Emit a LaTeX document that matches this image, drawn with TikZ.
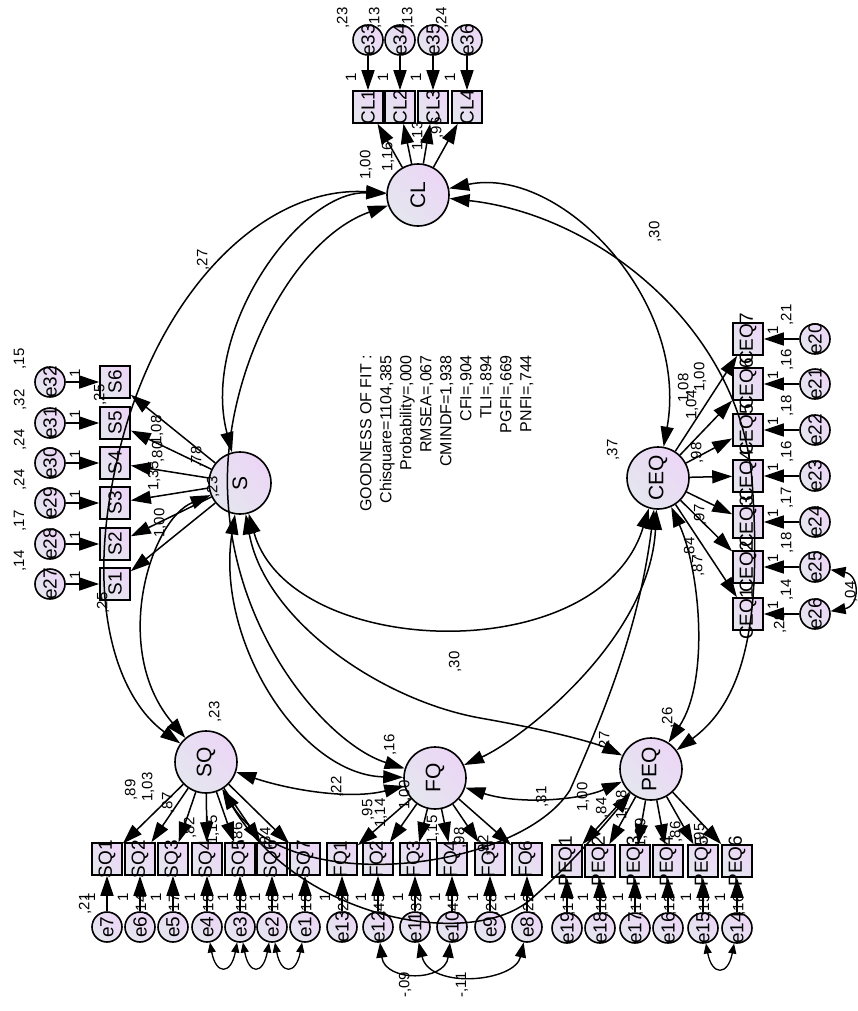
\documentclass[tikz,border=0pt]{standalone}
\usepackage{fontspec}
\setmainfont{Liberation Sans}
\usetikzlibrary{arrows.meta}
\definecolor{lavA}{RGB}{236,214,246}
\definecolor{lavB}{RGB}{228,230,238}
\tikzset{
  base/.style={draw, line width=1.6pt, top color=lavA, bottom color=lavB, shading angle=-45, inner sep=0pt},
  latent/.style={base, circle, minimum size=62pt},
  obs/.style={base, rectangle, minimum width=30pt, minimum height=32pt},
  err/.style={base, circle, minimum size=30pt},
  nm/.style={rotate=90, font=\fontsize{19}{19}\selectfont, inner sep=0pt},
  lnm/.style={rotate=90, font=\fontsize{21}{21}\selectfont, inner sep=0pt},
  num/.style={rotate=90, font=\fontsize{15}{15}\selectfont, inner sep=0pt},
  reg/.style={line width=1.5pt, -{Triangle[length=20pt,width=13pt]}},
  cov/.style={line width=1.5pt, {Triangle[length=20pt,width=13pt]}-{Triangle[length=20pt,width=13pt]}},
  mcov/.style={line width=1.4pt, {Triangle[length=15pt,width=11pt]}-{Triangle[length=15pt,width=11pt]}},
  ecov/.style={line width=1.3pt, {Triangle[length=10pt,width=8pt]}-{Triangle[length=10pt,width=8pt]}},
}
\begin{document}
\begin{tikzpicture}[x=1pt,y=-1pt]
\fill[white] (0,0) rectangle (857,1011);
\useasboundingbox (0,0) rectangle (857,1011);

% latent factors
\node[latent, label={[lnm]center:CL}]  (CL)  at (418,195) {};
\node[latent, label={[lnm]center:S}]   (S)   at (240,483) {};
\node[latent, label={[lnm]center:CEQ}] (CEQ) at (658,478) {};
\node[latent, label={[lnm]center:SQ}]  (SQ)  at (206,762) {};
\node[latent, label={[lnm]center:FQ}]  (FQ)  at (435,778) {};
\node[latent, label={[lnm]center:PEQ}] (PEQ) at (651,769) {};

% CL indicators
\foreach \i/\x in {1/368,2/400,3/433,4/467}{
  \pgfmathtruncatemacro\e{32+\i}
  \node[obs, label={[nm]center:CL\i}] (CL\i) at (\x,107) {};
  \node[err, label={[nm]center:e\e}] (e\e) at (\x,40) {};
}
% S indicators
\foreach \i/\y in {1/584,2/544,3/503,4/463,5/423,6/382}{
  \pgfmathtruncatemacro\e{26+\i}
  \node[obs, label={[nm]center:S\i}] (S\i) at (115,\y) {};
  \node[err, label={[nm]center:e\e}] (e\e) at (50,\y) {};
}
% SQ indicators
\foreach \i/\x in {1/107,2/140,3/173,4/207,5/240,6/272,7/305}{
  \pgfmathtruncatemacro\e{8-\i}
  \node[obs, label={[nm]center:SQ\i}] (SQ\i) at (\x,859) {};
  \node[err, label={[nm]center:e\e}] (e\e) at (\x,927) {};
}
% FQ indicators
\foreach \i/\x in {1/342,2/378,3/415,4/452,5/490,6/527}{
  \pgfmathtruncatemacro\e{14-\i}
  \node[obs, label={[nm]center:FQ\i}] (FQ\i) at (\x,859) {};
  \node[err, label={[nm]center:e\e}] (e\e) at (\x,927) {};
}
% PEQ indicators
\foreach \i/\x in {1/567,2/600,3/635,4/668,5/703,6/737}{
  \pgfmathtruncatemacro\e{20-\i}
  \node[obs, label={[nm]center:PEQ\i}] (PEQ\i) at (\x,861) {};
  \node[err, label={[nm]center:e\e}] (e\e) at (\x,928) {};
}
% CEQ indicators
\foreach \i/\y in {7/339,6/384,5/430,4/476,3/522,2/567,1/614}{
  \pgfmathtruncatemacro\e{27-\i}
  \node[obs, label={[nm]center:CEQ\i}] (CEQ\i) at (748,\y) {};
  \node[err, label={[nm]center:e\e}] (e\e) at (815,\y) {};
}

% loadings and error paths
\foreach \i in {1,...,4}{\pgfmathtruncatemacro\e{32+\i}
  \draw[reg] (CL) -- (CL\i); \draw[reg] (e\e) -- (CL\i);}
\foreach \i in {1,...,6}{\pgfmathtruncatemacro\e{26+\i}
  \draw[reg] (S) -- (S\i); \draw[reg] (e\e) -- (S\i);}
\foreach \i in {1,...,7}{\pgfmathtruncatemacro\e{8-\i}
  \draw[reg] (SQ) -- (SQ\i); \draw[reg] (e\e) -- (SQ\i);}
\foreach \i in {1,...,6}{\pgfmathtruncatemacro\e{14-\i}
  \draw[reg] (FQ) -- (FQ\i); \draw[reg] (e\e) -- (FQ\i);}
\foreach \i in {1,...,6}{\pgfmathtruncatemacro\e{20-\i}
  \draw[reg] (PEQ) -- (PEQ\i); \draw[reg] (e\e) -- (PEQ\i);}
\foreach \i in {1,...,7}{\pgfmathtruncatemacro\e{27-\i}
  \draw[reg] (CEQ) -- (CEQ\i); \draw[reg] (e\e) -- (CEQ\i);}

% factor covariances
\draw[cov] (CL) .. controls (300,190) and (200,330) .. (S);
\draw[cov] (CL) .. controls (260,185) and (150,300) .. (115,470) .. controls (85,610) and (120,700) .. (SQ);
\draw[cov] (CL) .. controls (290,240) and (220,380) .. (228,500) .. controls (236,640) and (330,745) .. (FQ);
\draw[cov] (CL) .. controls (560,165) and (690,300) .. (CEQ);
\draw[cov] (CL) .. controls (600,215) and (740,330) .. (752,480) .. controls (762,620) and (745,700) .. (PEQ);
\draw[cov] (CEQ) .. controls (700,570) and (710,680) .. (PEQ);
\draw[cov] (S) .. controls (290,660) and (600,670) .. (CEQ);
\draw[cov] (S) .. controls (150,520) and (110,650) .. (SQ);
\draw[cov] (S) .. controls (215,640) and (300,775) .. (FQ);
\draw[cov] (S) .. controls (265,620) and (380,700) .. (480,718) .. controls (560,732) and (600,745) .. (PEQ);
\draw[cov] (SQ) .. controls (290,790) and (350,800) .. (FQ);
\draw[cov] (SQ) .. controls (290,900) and (520,870) .. (570,790) .. controls (610,700) and (640,620) .. (CEQ);
\draw[cov] (SQ) .. controls (300,920) and (470,950) .. (530,900) .. controls (570,865) and (600,830) .. (PEQ);
\draw[cov] (FQ) .. controls (520,740) and (650,640) .. (CEQ);
\draw[cov] (FQ) .. controls (520,805) and (580,800) .. (PEQ);

% error covariances
\draw[ecov] (e4) .. controls (216,975) and (231,975) .. (e3);
\draw[ecov] (e3) .. controls (249,975) and (263,975) .. (e2);
\draw[ecov] (e2) .. controls (281,975) and (296,975) .. (e1);
\draw[ecov] (e15) .. controls (712,976) and (728,976) .. (e14);
\draw[mcov] (e25) .. controls (860,575) and (860,606) .. (e26);
\draw[mcov] (e12) .. controls (385,982) and (445,982) .. (e10);
\draw[mcov] (e11) .. controls (430,990) and (515,982) .. (e8);

% fixed weights
\foreach \x in {368,400,433,467}{\node[num] at (\x-17,77) {1};}
\foreach \y in {584,544,503,463,423,382}{\node[num] at (75,\y-9) {1};}
\foreach \x in {107,140,173,207,240,272,305,342,378,415,452,490,527,567,600,635,668,703,737}{\node[num] at (\x-17,897) {1};}
\foreach \y in {339,384,430,476,522,567,614}{\node[num] at (773,\y-9) {1};}

% error variances
\foreach \x/\v in {368/{,23},400/{,13},433/{,13},467/{,24}}{\node[num] at (\x-25,18) {\v};}
\foreach \y/\v in {584/{,14},544/{,17},503/{,24},463/{,24},423/{,32},382/{,15}}{\node[num] at (20,\y-23) {\v};}
\foreach \y/\v in {339/{,21},384/{,16},430/{,18},476/{,16},522/{,17},567/{,18},614/{,14}}{\node[num] at (787,\y-24) {\v};}
\node[num] (v7) at (85,904) {,21};
\foreach \x/\v in {140/{,14},173/{,17},207/{,18},240/{,18},272/{,18},305/{,18},342/{,22},378/{,45},415/{,32},452/{,45},490/{,28},527/{,22},567/{,17},600/{,18},635/{,17},668/{,12},703/{,15},737/{,16}}{\node[num] at (\x+2,905) {\v};}

% loading estimates
\node[num] at (366,165) {1,00};
\node[num] at (388,157) {1,16};
\node[num] at (418,136) {1,13};
\node[num] at (437,128) {,96};
\node[num] at (100,395) {,25};
\node[num] at (157,430) {1,08};
\node[num] at (158,452) {,80};
\node[num] at (154,476) {1,35};
\node[num] at (160,523) {1,00};
\node[num] at (197,457) {,78};
\node[num] at (213,487) {,23};
\node[num] at (103,603) {,25};
\node[num] at (131,790) {,89};
\node[num] at (148,787) {1,03};
\node[num] at (168,803) {,87};
\node[num] at (190,828) {,82};
\node[num] at (213,830) {1,15};
\node[num] at (238,833) {,86};
\node[num] at (266,838) {,84};
\node[num] at (368,810) {,95};
\node[num] at (381,813) {1,14};
\node[num] at (405,795) {1,00};
\node[num] at (433,830) {1,15};
\node[num] at (460,838) {,98};
\node[num] at (484,846) {,92};
\node[num] at (583,797) {1,00};
\node[num] at (602,808) {,84};
\node[num] at (622,805) {1,08};
\node[num] at (641,833) {1,09};
\node[num] at (676,832) {,86};
\node[num] at (700,834) {,95};
\node[num] at (700,377) {1,00};
\node[num] at (684,388) {1,08};
\node[num] at (692,405) {1,04};
\node[num] at (697,453) {,98};
\node[num] at (700,515) {,97};
\node[num] at (690,548) {,84};
\node[num] at (698,566) {,87};
\node[num] at (780,623) {,29};

% covariance and factor variance estimates
\node[num] at (203,260) {,27};
\node[num] at (655,232) {,30};
\node[num] at (455,662) {,30};
\node[num] at (337,787) {,22};
\node[num] at (390,745) {,16};
\node[num] at (542,797) {,31};
\node[num] at (605,742) {,27};
\node[num] at (668,718) {,26};
\node[num] at (613,450) {,37};
\node[num] at (215,712) {,23};
\node[num] at (405,985) {-,09};
\node[num] at (462,985) {-,11};
\node[num] at (851,592) {,04};

% fit summary
\node[rotate=90, anchor=north east, align=right, inner sep=0pt,
      font=\fontsize{16}{20}\selectfont] (fit) at (360,355)
  {GOODNESS OF FIT :\\ Chisquare=1104,385\\ Probability=,000\\ RMSEA=,067\\ CMINDF=1,938\\ CFI=,904\\ TLI=,894\\ PGFI=,669\\ PNFI=,744};
\end{tikzpicture}
\end{document}
